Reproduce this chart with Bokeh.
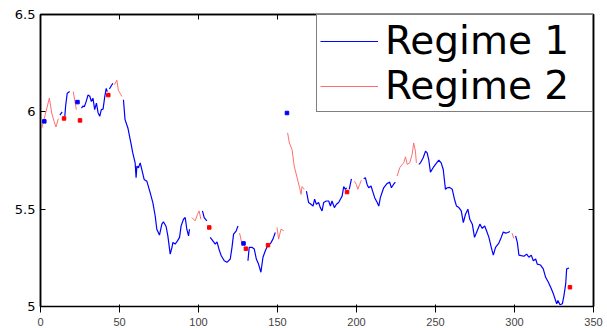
import numpy as np
from bokeh.plotting import figure
from bokeh.models import LinearAxis, FixedTicker, NumeralTickFormatter, Range1d, CustomJSTickFormatter
from bokeh.embed import file_html
from bokeh.resources import INLINE

# ---- data (time index, level), None separates line segments ----
regime1_t = [12.3, 13.7, None,
             15.4, 15.9, 16.9, 18.5, None,
             25.9, 27.0, 27.7, 28.8, 30.1, 31.2, 32.2, 33.2, 34.3, 35.4, 36.4, 37.5, 38.5, 39.6, 40.7, 41.6, 42.3, None,
             43.6, 45.8, None,
             52.5, 53.5, 55.3, 57.2, 58.4, 59.9, 60.5, 61.0, 62.0, 63.1, 64.1, 65.6, 67.3, 69.4, 71.1, 72.6, 73.6, 75.3,
             76.8, 77.8, 79.5, 80.6, 82.1, 83.2, 83.8, 85.2, 86.7, 88.0, 89.0, 90.5, 91.6, 92.6, 93.7, 94.3, None,
             102.5, 103.6, 105.3, None,
             107.4, 109.1, 110.6, 111.7, 113.1, 114.4, 116.3, 118.0, 120.1, 121.2, 122.2, 123.9, 125.0, None,
             131.3, 132.1, 133.8, 135.3, 136.6, 138.0, 139.5, 140.8, 142.3, 143.7, None,
             145.4, 147.1, 148.6, None,
             168.3, 169.7, 171.2, 172.5, 173.5, 174.6, 176.0, 177.1, 178.2, 179.2, 180.9, 182.4, 183.5, 184.5, 186.0,
             187.3, 188.7, 189.8, 190.9, 191.9, 193.0, 193.8, None,
             195.4, 196.8, None,
             204.6, 205.6, 206.7, 207.7, 209.2, 210.5, 211.5, 213.1, 214.1, 215.1, 217.2, 219.4, 221.0, 222.1, 223.4,
             224.6, None,
             239.4, 240.5, 242.2, 243.7, 244.7, 245.7, 246.8, 248.5, 250.0, 252.1, 253.6, 254.9, 256.3, 257.4, 258.9,
             260.6, 262.0, 263.3, 264.8, 266.3, 267.6, 269.0, 270.5, 271.7, 273.3, 274.7, 276.4, 278.1, 279.6, 281.1,
             282.3, 283.8, 285.3, 286.6, 288.0, 290.1, 291.6, 292.9, 294.4, 295.8, 297.1, None,
             300.7, 301.8, 302.8, 304.3, 306.0, 307.7, 309.1, 310.6, 311.9, 313.4, 314.4, 316.5, 318.2, 319.7, 321.2,
             322.9, 324.6, 326.0, 326.7, 327.5, 328.8, 330.3, 331.3, 332.4, 333.0, 334.5]
regime1_v = [5.983, 6.000, None,
             5.978, 6.030, 6.095, 6.104, None,
             6.019, 6.030, 6.026, 6.050, 6.087, 6.080, 6.053, 6.070, 6.011, 6.045, 5.997, 5.977, 6.011, 6.014, 6.079, 6.120, 6.104, None,
             6.117, 6.147, None,
             6.062, 5.960, 5.917, 5.841, 5.789, 5.738, 5.662, 5.721, 5.713, 5.738, 5.704, 5.653, 5.644, 5.585, 5.534, 5.465, 5.397, 5.367,
             5.423, 5.435, 5.411, 5.363, 5.269, 5.304, 5.329, 5.321, 5.337, 5.355, 5.414, 5.448, 5.457, 5.397, 5.363, 5.397, None,
             5.491, 5.457, 5.440, None,
             5.355, 5.337, 5.321, 5.332, 5.291, 5.261, 5.235, 5.227, 5.244, 5.304, 5.372, 5.389, 5.414, None,
             5.235, 5.304, 5.304, 5.295, 5.244, 5.218, 5.176, 5.253, 5.286, 5.312, None,
             5.321, 5.346, 5.380, None,
             5.593, 5.534, 5.525, 5.516, 5.551, 5.525, 5.534, 5.508, 5.491, 5.534, 5.542, 5.542, 5.516, 5.542, 5.508,
             5.525, 5.534, 5.551, 5.567, 5.616, 5.602, 5.610, None,
             5.602, 5.656, None,
             5.656, 5.662, 5.627, 5.610, 5.619, 5.585, 5.559, 5.534, 5.516, 5.559, 5.610, 5.632, 5.639, 5.610, 5.627,
             5.639, None,
             5.730, 5.738, 5.764, 5.798, 5.789, 5.755, 5.690, 5.713, 5.730, 5.752, 5.738, 5.704, 5.602, 5.610, 5.612,
             5.602, 5.551, 5.516, 5.508, 5.491, 5.431, 5.474, 5.500, 5.448, 5.423, 5.355, 5.389, 5.423, 5.401, 5.414,
             5.389, 5.355, 5.304, 5.264, 5.304, 5.326, 5.355, 5.383, 5.377, 5.380, 5.385, None,
             5.363, 5.329, 5.264, 5.261, 5.258, 5.269, 5.253, 5.264, 5.235, 5.244, 5.218, 5.213, 5.193, 5.150, 5.128,
             5.099, 5.065, 5.031, 5.014, 5.031, 5.009, 5.014, 5.056, 5.116, 5.193, 5.198]

regime2_t = [0.8, 3.0, 5.6, 7.1, 8.6, 9.8, 11.3, None,
             20.7, 22.0, 22.7, None,
             46.8, 48.3, 49.3, 50.4, 51.5, None,
             95.8, 97.9, 99.4, 100.4, 101.5, None,
             126.0, 127.5, None,
             149.7, 150.7, 152.2, 153.9, None,
             156.4, 157.5, 159.2, 160.6, 162.4, 164.0, 164.9, 165.5, 167.0, None,
             198.7, 199.9, 200.8, 202.0, 203.1, None,
             225.7, 227.4, 228.9, 229.9, 231.0, 232.1, 233.7, 235.2, 236.2, 237.3, 237.9, None,
             298.4, 299.6]
regime2_v = [5.917, 5.985, 6.071, 5.994, 5.951, 5.922, 5.965, None,
             6.104, 6.045, 6.011, None,
             6.139, 6.163, 6.110, 6.095, 6.079, None,
             5.457, 5.440, 5.474, 5.491, 5.448, None,
             5.377, 5.321, None,
             5.406, 5.346, 5.397, 5.389, None,
             5.892, 5.840, 5.806, 5.721, 5.662, 5.610, 5.576, 5.616, 5.602, None,
             5.644, 5.627, 5.602, 5.627, 5.649, None,
             5.670, 5.713, 5.730, 5.738, 5.769, 5.730, 5.738, 5.781, 5.840, 5.798, 5.738, None,
             5.377, 5.350]

# isolated single observations
single1_t = [2.4, 23.4, 128.5, 156.0]
single1_v = [5.951, 6.050, 5.324, 5.994]
single2_t = [14.9, 25.0, 42.9, 106.8, 130.0, 144.0, 194.0, 335.1]
single2_v = [5.966, 5.956, 6.086, 5.406, 5.297, 5.315, 5.588, 5.099]

x_ticks = [0, 50, 100, 150, 200, 250, 300, 350]
y_ticks = [5, 5.5, 6, 6.5]

BLUE = "#0000ff"
RED = "#ff6e6e"
FONT = "DejaVu Sans"

p = figure(width=607, height=328, x_range=Range1d(0, 350), y_range=Range1d(5, 6.5),
           output_backend="svg", toolbar_location=None,
           min_border_left=40, min_border_right=14, min_border_top=14, min_border_bottom=20)
p.xgrid.visible = False
p.ygrid.visible = False
p.outline_line_color = "black"
p.outline_line_width = 1.5
p.background_fill_color = "white"

p.line(np.array(regime1_t, dtype=float), np.array(regime1_v, dtype=float),
       line_color=BLUE, line_width=1.2, legend_label="Regime 1")
p.line(np.array(regime2_t, dtype=float), np.array(regime2_v, dtype=float),
       line_color=RED, line_width=1.0, legend_label="Regime 2")
p.scatter(single1_t, single1_v, marker="square", size=3.5, fill_color=BLUE, line_color=BLUE)
p.scatter(single2_t, single2_v, marker="square", size=3.5, fill_color="#ff0000", line_color="#ff0000")

p.xaxis.ticker = FixedTicker(ticks=x_ticks)
p.yaxis.ticker = FixedTicker(ticks=y_ticks)
p.yaxis.formatter = NumeralTickFormatter(format="0.[0]")
p.xaxis.formatter = NumeralTickFormatter(format="0")

blank = CustomJSTickFormatter(code="return '';")
top = LinearAxis(ticker=FixedTicker(ticks=x_ticks), formatter=blank, major_label_standoff=0)
right = LinearAxis(ticker=FixedTicker(ticks=y_ticks), formatter=blank, major_label_standoff=0)
p.add_layout(top, "above")
p.add_layout(right, "right")

for ax in [p.xaxis[0], p.yaxis[0], top, right]:
    ax.major_tick_in = 5
    ax.major_tick_out = 0
    ax.minor_tick_in = 0
    ax.minor_tick_out = 0
    ax.axis_line_color = "black"
    ax.axis_line_width = 1.5
    ax.major_tick_line_color = "black"
    ax.major_tick_line_width = 1
for ax in [p.xaxis[0], p.yaxis[0]]:
    ax.major_label_text_font = FONT
    ax.major_label_text_font_size = "13px"
    ax.major_label_text_color = "black"
p.xaxis[0].major_label_standoff = 4
p.yaxis[0].major_label_standoff = 5

lg = p.legend[0]
lg.location = "top_right"
lg.margin = 0
lg.label_text_font = FONT
lg.label_text_font_size = "39px"
lg.label_text_color = "black"
lg.glyph_width = 58
lg.glyph_height = 20
lg.label_standoff = 7
lg.label_width = 204
lg.padding = 3
lg.spacing = -2
lg.border_line_color = "black"
lg.border_line_width = 1.5
lg.background_fill_alpha = 1.0

open("out.html", "w").write(file_html(p, INLINE))
